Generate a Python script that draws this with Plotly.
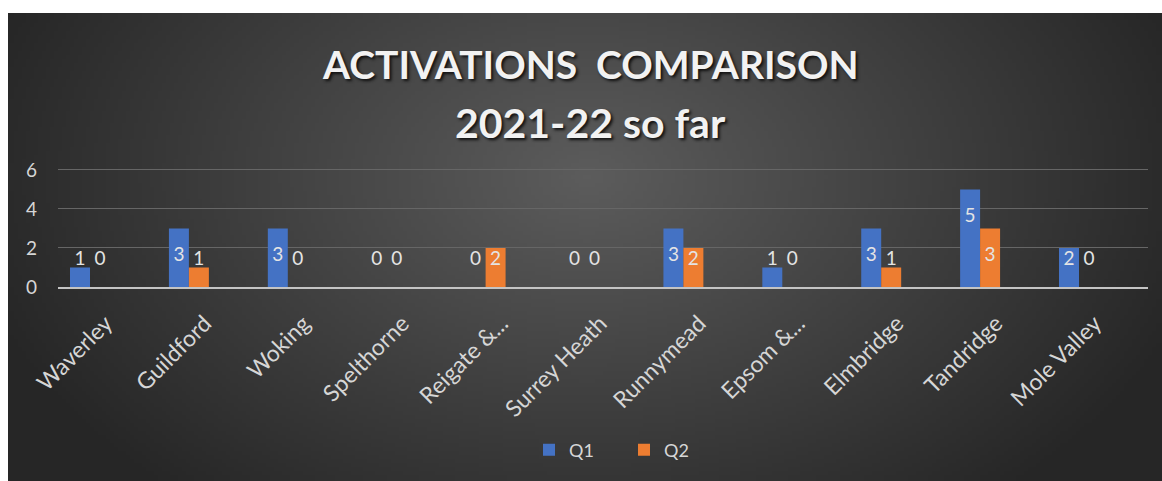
import base64, struct, zlib, math
import plotly.graph_objects as go

# ---------------- data ----------------
categories = ["Waverley", "Guildford", "Woking", "Spelthorne", "Reigate &...",
              "Surrey Heath", "Runnymead", "Epsom &...", "Elmbridge", "Tandridge", "Mole Valley"]
q1_values = [1, 3, 3, 0, 0, 0, 3, 1, 3, 5, 2]
q2_values = [0, 1, 0, 0, 2, 0, 2, 0, 1, 3, 0]
y_ticks = [0, 2, 4, 6]
title_line1 = "ACTIVATIONS\u00a0\u00a0COMPARISON"
title_line2 = "2021-22 so far"

# ---------------- geometry / style ----------------
W, H = 1162, 481
Y_TOP = 6.1
L, R, T, B = 58, 14, 168, 194
PW, PH = W - L - R, H - T - B
CAT_PX, FIRST_PX = 98.9, 90          # category spacing and first centre (px)
BLUE, ORANGE = "#4472C4", "#ED7D31"
FONT = "Lato"
TXT = "#d6d6d6"
LABEL_SHIFT = 0.16                   # shift of rotated tick labels (category units)

def px_to_paper_x(px):
    return (px - L) / PW

def px_to_paper_y(py):
    return (H - B - py) / PH

# ---------------- background gradient PNG ----------------
def make_png(w, h, fn):
    raw = bytearray()
    for j in range(h):
        raw.append(0)
        for i in range(w):
            raw.extend(fn(i, j))
    def chunk(tag, data):
        c = struct.pack(">I", len(data)) + tag + data
        return c + struct.pack(">I", zlib.crc32(tag + data) & 0xffffffff)
    png = b"\x89PNG\r\n\x1a\n"
    png += chunk(b"IHDR", struct.pack(">IIBBBBB", w, h, 8, 2, 0, 0, 0))
    png += chunk(b"IDAT", zlib.compress(bytes(raw), 9))
    png += chunk(b"IEND", b"")
    return "data:image/png;base64," + base64.b64encode(png).decode()

BG_X0, BG_Y0, BG_X1, BG_Y1 = 8, 13, W, H
SC = 4
iw, ih = (BG_X1 - BG_X0) // SC, (BG_Y1 - BG_Y0) // SC
CX, CY, RX, RY = 585, 175, 630, 420
C0, C1 = 92, 38

def grad(i, j):
    x = BG_X0 + i * SC
    y = BG_Y0 + j * SC
    t = math.sqrt(((x - CX) / RX) ** 2 + ((y - CY) / RY) ** 2)
    t = min(t, 1.0)
    v = int(round(C0 + (C1 - C0) * t))
    return (v, v, v)

bg_uri = make_png(iw, ih, grad)

# ---------------- figure ----------------
xpos = list(range(len(categories)))
OFF = 0.101

fig = go.Figure()
fig.add_trace(go.Bar(name="Q1", x=xpos, y=q1_values, marker=dict(color=BLUE, line=dict(width=0))))
fig.add_trace(go.Bar(name="Q2", x=xpos, y=q2_values, marker=dict(color=ORANGE, line=dict(width=0))))

def label_y(v):
    return max(v - 1.4, 1.39)

fig.add_trace(go.Scatter(
    x=[p - OFF for p in xpos] + [p + OFF for p in xpos],
    y=[label_y(v) for v in q1_values] + [label_y(v) for v in q2_values],
    text=[str(v) for v in q1_values] + [str(v) for v in q2_values],
    mode="text", textfont=dict(family=FONT, size=19, color="#e4e4e4"),
    cliponaxis=False, showlegend=False, hoverinfo="skip"))

fig.update_layout(
    width=W, height=H,
    margin=dict(l=L, r=R, t=T, b=B, pad=0),
    paper_bgcolor="white",
    plot_bgcolor="rgba(0,0,0,0)",
    barmode="group", bargap=0.596, bargroupgap=0,
    font=dict(family=FONT, color=TXT),
    showlegend=True,
    legend=dict(orientation="h", x=px_to_paper_x(529), xanchor="left",
                y=px_to_paper_y(450), yanchor="middle",
                font=dict(family=FONT, size=18, color=TXT), itemwidth=30,
                bgcolor="rgba(0,0,0,0)", entrywidth=50, traceorder="normal"),
    images=[dict(source=bg_uri, xref="paper", yref="paper",
                 x=px_to_paper_x(BG_X0), y=px_to_paper_y(BG_Y0),
                 sizex=(BG_X1 - BG_X0) / PW, sizey=(BG_Y1 - BG_Y0) / PH,
                 xanchor="left", yanchor="top", sizing="stretch", layer="below")],
    xaxis=dict(range=[(L - FIRST_PX) / CAT_PX, (W - R - FIRST_PX) / CAT_PX], tickmode="array",
               tickvals=[p + LABEL_SHIFT for p in xpos], ticktext=categories, tickangle=-45,
               tickfont=dict(family=FONT, size=23, color=TXT), ticklabelstandoff=12,
               showgrid=False, zeroline=False, showline=True,
               linecolor="#c4c4c4", linewidth=2, ticks=""),
    yaxis=dict(range=[0, Y_TOP], tickvals=y_ticks, showgrid=True, gridcolor="#666666",
               gridwidth=1, zeroline=False, showline=False, ticks="",
               tickfont=dict(family=FONT, size=19, color=TXT), ticklabelstandoff=20),
    annotations=[
        dict(text=title_line1, xref="paper", yref="paper", x=px_to_paper_x(590),
             y=px_to_paper_y(64), xanchor="center", yanchor="middle", showarrow=False,
             font=dict(family=FONT, size=39, color="#f2f2f2", weight="bold",
                       shadow="2px 2px 3px #111111")),
        dict(text=title_line2, xref="paper", yref="paper", x=px_to_paper_x(590),
             y=px_to_paper_y(122), xanchor="center", yanchor="middle", showarrow=False,
             font=dict(family=FONT, size=41, color="#f2f2f2", weight="bold",
                       shadow="2px 2px 3px #111111")),
    ],
)

fig.write_html("out.html", config={"displayModeBar": False},
               post_script="document.body.style.margin='0px';")
